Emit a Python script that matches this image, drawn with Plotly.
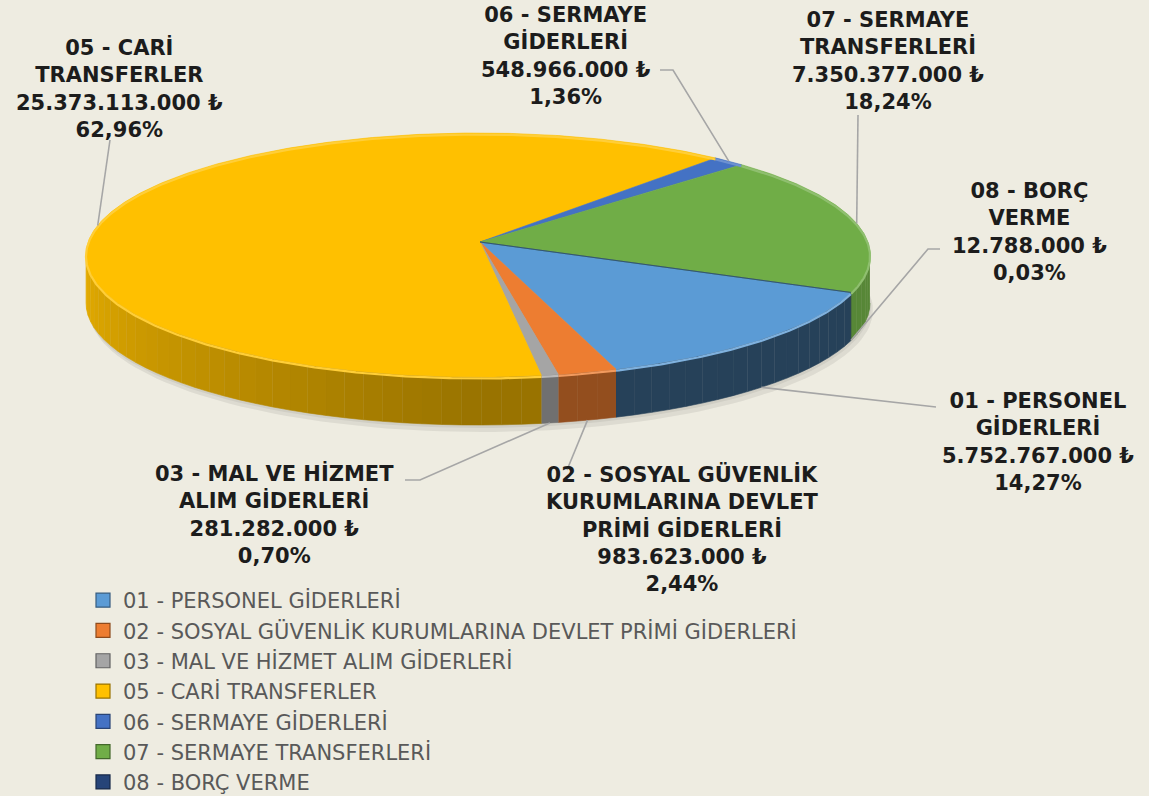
import numpy as np
import plotly.graph_objects as go

# ---------------- data ----------------
categories = [
    "01 - PERSONEL GİDERLERİ",
    "02 - SOSYAL GÜVENLİK KURUMLARINA DEVLET PRİMİ GİDERLERİ",
    "03 - MAL VE HİZMET ALIM GİDERLERİ",
    "05 - CARİ TRANSFERLER",
    "06 - SERMAYE GİDERLERİ",
    "07 - SERMAYE TRANSFERLERİ",
    "08 - BORÇ VERME",
]
values = [5752767000, 983623000, 281282000, 25373113000, 548966000, 7350377000, 12788000]
label_lines = [
    ["01 - PERSONEL", "GİDERLERİ"],
    ["02 - SOSYAL GÜVENLİK", "KURUMLARINA DEVLET", "PRİMİ GİDERLERİ"],
    ["03 - MAL VE HİZMET", "ALIM GİDERLERİ"],
    ["05 - CARİ", "TRANSFERLER"],
    ["06 - SERMAYE", "GİDERLERİ"],
    ["07 - SERMAYE", "TRANSFERLERİ"],
    ["08 - BORÇ", "VERME"],
]

# ---------------- styles / layout ----------------
colors = ["#5B9BD5", "#ED7D31", "#A5A5A5", "#FFC000", "#4472C4", "#70AD47", "#264478"]
side_factor = [0.42, 0.62, 0.68, 0.60, 0.60, 0.78, 0.60]
label_pos = [(1038, 442), (682, 529), (274, 514), (119, 88), (566, 56), (888, 61), (1029, 232)]
leader_from = [
    [(936, 407)],
    [(567, 470)],
    [(405, 480), (420, 480)],
    [(110, 140)],
    [(660, 70), (673, 70)],
    [(858, 115)],
    [(940, 249), (928, 249)],
]
W, H = 1149, 796
BG = "#EEECE1"
CX, CY, RX, RY = 478, 255, 392, 122     # top ellipse (pixels)
APEX = (480, 242)
DEPTH = 48
START = 108.0                            # first slice angle, clockwise from north


def hex2rgb(h):
    h = h.lstrip("#")
    return [int(h[i:i + 2], 16) for i in (0, 2, 4)]


def shade(h, f):
    r, g, b = hex2rgb(h)
    return "rgb(%d,%d,%d)" % tuple(max(0, min(255, int(round(c * f)))) for c in (r, g, b))


def tint(h, t):
    r, g, b = hex2rgb(h)
    return "rgb(%d,%d,%d)" % tuple(int(round(c + (255 - c) * t)) for c in (r, g, b))


def rim(phi):
    r = np.radians(phi)
    return CX + RX * np.sin(r), CY - RY * np.cos(r)


total = float(sum(values))
pcts = [100.0 * v / total for v in values]
bounds = []
acc = 0.0
for v in values:
    s = START + 360.0 * acc / total
    acc += v
    e = START + 360.0 * acc / total
    bounds.append((s, e))

fig = go.Figure()

# soft shadow under the pie
ph = np.linspace(0, 360, 181)
sx, sy = rim(ph)
fig.add_trace(go.Scatter(x=sx + 3, y=sy + DEPTH + 7, fill="toself", mode="lines",
                         line=dict(width=0), fillcolor="rgba(0,0,0,0.07)",
                         hoverinfo="skip", showlegend=False))
fig.add_trace(go.Scatter(x=sx + 1, y=sy + DEPTH + 3, fill="toself", mode="lines",
                         line=dict(width=0), fillcolor="rgba(0,0,0,0.06)",
                         hoverinfo="skip", showlegend=False))

# front walls (strips with simple lighting)
for i, (s, e) in enumerate(bounds):
    for k in range(-1, 3):
        a = max(s, 90 + 360 * k)
        b = min(e, 270 + 360 * k)
        if b <= a:
            continue
        n = max(1, int(np.ceil((b - a) / 3.0)))
        edges = np.linspace(a, b, n + 1)
        for j in range(n):
            p0, p1 = edges[j], edges[j + 1]
            pp = np.linspace(p0, p1, 4)
            tx, ty = rim(pp)
            xs = list(tx) + list(tx[::-1])
            ys = list(ty) + list((ty + DEPTH)[::-1])
            pm = ((p0 + p1) / 2.0) % 360
            g = 1.0 + 0.5 * min(1.0, max(0.0, (pm - 180.0) / 90.0))
            col = shade(colors[i], side_factor[i] * g)
            fig.add_trace(go.Scatter(x=xs, y=ys, fill="toself", mode="lines",
                                     line=dict(width=0.6, color=col), fillcolor=col,
                                     hoverinfo="skip", showlegend=False))

# top faces
for i, (s, e) in enumerate(bounds):
    pp = np.linspace(s, e, max(3, int((e - s) * 2) + 2))
    tx, ty = rim(pp)
    xs = [APEX[0]] + list(tx) + [APEX[0]]
    ys = [APEX[1]] + list(ty) + [APEX[1]]
    fig.add_trace(go.Scatter(x=xs, y=ys, fill="toself", mode="lines",
                             line=dict(width=0.6, color=colors[i]), fillcolor=colors[i],
                             name=categories[i], hoverinfo="name", showlegend=False))

# bevel highlight along the rim
for i, (s, e) in enumerate(bounds):
    pp = np.linspace(s, e, max(3, int((e - s) * 2) + 2))
    tx, ty = rim(pp)
    fig.add_trace(go.Scatter(x=tx, y=ty + 1.5, mode="lines",
                             line=dict(width=2.2, color=tint(colors[i], 0.22)),
                             hoverinfo="skip", showlegend=False))

# legend entries
for i, name in enumerate(categories):
    fig.add_trace(go.Scatter(x=[None], y=[None], mode="markers", name=name,
                             marker=dict(symbol="square", size=14, color=colors[i],
                                         line=dict(color=shade(colors[i], 0.6), width=1.2))))

# labels and leader lines
shapes = []
annotations = []
for i, (s, e) in enumerate(bounds):
    m = ((s + e) / 2.0) % 360
    ex, ey = rim(m)
    if 90 < m < 270:
        ey += DEPTH
    pts = leader_from[i] + [(float(ex), float(ey))]
    path = "M " + " L ".join("%.1f,%.1f" % p for p in pts)
    shapes.append(dict(type="path", path=path, xref="x", yref="y",
                       line=dict(color="#A6A6A6", width=1.6)))
    val = "{:,}".format(values[i]).replace(",", ".") + " ₺"
    pct = ("%.2f" % pcts[i]).replace(".", ",") + "%"
    text = "<br>".join(label_lines[i] + [val, pct])
    annotations.append(dict(x=label_pos[i][0], y=label_pos[i][1], xref="x", yref="y",
                            text=text, showarrow=False, xanchor="center", yanchor="middle",
                            align="center",
                            font=dict(family="DejaVu Sans", size=21, color="#1C1C1C",
                                      weight="bold")))

fig.update_layout(
    width=W, height=H,
    margin=dict(l=0, r=0, t=0, b=0, autoexpand=False),
    paper_bgcolor=BG, plot_bgcolor=BG,
    xaxis=dict(range=[0, W], visible=False, fixedrange=True),
    yaxis=dict(range=[H, 0], visible=False, fixedrange=True),
    shapes=shapes,
    annotations=annotations,
    showlegend=True,
    legend=dict(x=83 / W, y=1 - 580 / H, xanchor="left", yanchor="top",
                orientation="v", bgcolor="rgba(0,0,0,0)", borderwidth=0,
                font=dict(family="DejaVu Sans", size=21, color="#595959")),
)

fig.write_html("out.html", config={"displayModeBar": False},
               post_script="document.body.style.margin='0';document.body.style.background='%s';" % BG)
